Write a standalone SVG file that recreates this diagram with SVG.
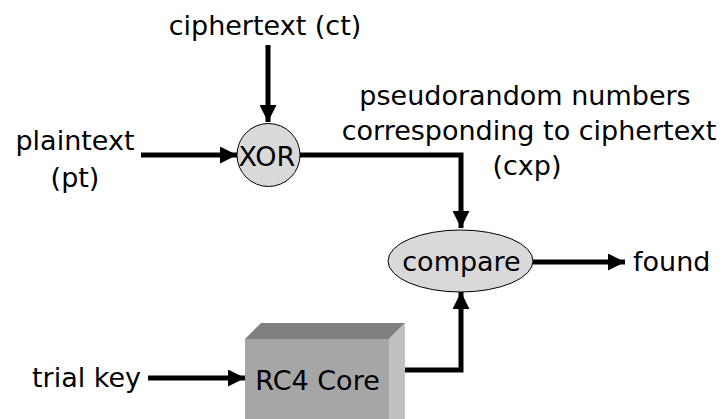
<svg xmlns="http://www.w3.org/2000/svg" width="725" height="419" viewBox="0 0 725 419">
  <defs>
    <style>
      text { font-family: "DejaVu Sans", Verdana, sans-serif; font-size: 27px; fill: #000; }
      .mid { text-anchor: middle; }
      .wire { fill: none; stroke: #000; stroke-width: 5; }
      .node { fill: #d9d9d9; stroke: #000; stroke-width: 1; }
    </style>
    <marker id="arrow" viewBox="0 0 10 10" refX="10" refY="5" markerWidth="3.4" markerHeight="3.4" markerUnits="strokeWidth" orient="auto">
      <path d="M0,0 L10,5 L0,10 z" fill="#000"/>
    </marker>
  </defs>
  <rect width="725" height="419" fill="#fff"/>

  <!-- connectors -->
  <g id="connectors">
    <path class="wire" d="M268,45 V122" marker-end="url(#arrow)"/>
    <path class="wire" d="M141,155 H237" marker-end="url(#arrow)"/>
    <path class="wire" d="M300,155 H461 V228" marker-end="url(#arrow)"/>
    <path class="wire" d="M533,262 H625" marker-end="url(#arrow)"/>
    <path class="wire" d="M148,378 H245" marker-end="url(#arrow)"/>
    <path class="wire" d="M397,370 H461 V292" marker-end="url(#arrow)"/>
  </g>

  <!-- free labels -->
  <g id="labels">
    <text class="mid" x="265" y="35">ciphertext (ct)</text>
    <text class="mid" x="525" y="105">pseudorandom numbers</text>
    <text class="mid" x="529" y="140">corresponding to ciphertext</text>
    <text class="mid" x="527" y="175">(cxp)</text>
    <text class="mid" x="75" y="150">plaintext</text>
    <text class="mid" x="75" y="187">(pt)</text>
    <text x="633" y="271">found</text>
    <text x="32" y="387">trial key</text>
  </g>

  <g id="xor">
    <circle class="node" cx="268.5" cy="155" r="31.5"/>
    <text class="mid" x="267" y="166">XOR</text>
  </g>

  <g id="compare">
    <ellipse class="node" cx="460.5" cy="261" rx="72.5" ry="31"/>
    <text class="mid" x="461.5" y="271">compare</text>
  </g>

  <g id="rc4core">
    <polygon points="245,339 261,323 405,323 389,339" fill="#808080"/>
    <polygon points="389,339 405,323 405,419 389,419" fill="#c0c0c0"/>
    <rect x="245" y="339" width="144" height="80" fill="#a6a6a6"/>
    <text class="mid" x="317.5" y="390">RC4 Core</text>
  </g>
</svg>
